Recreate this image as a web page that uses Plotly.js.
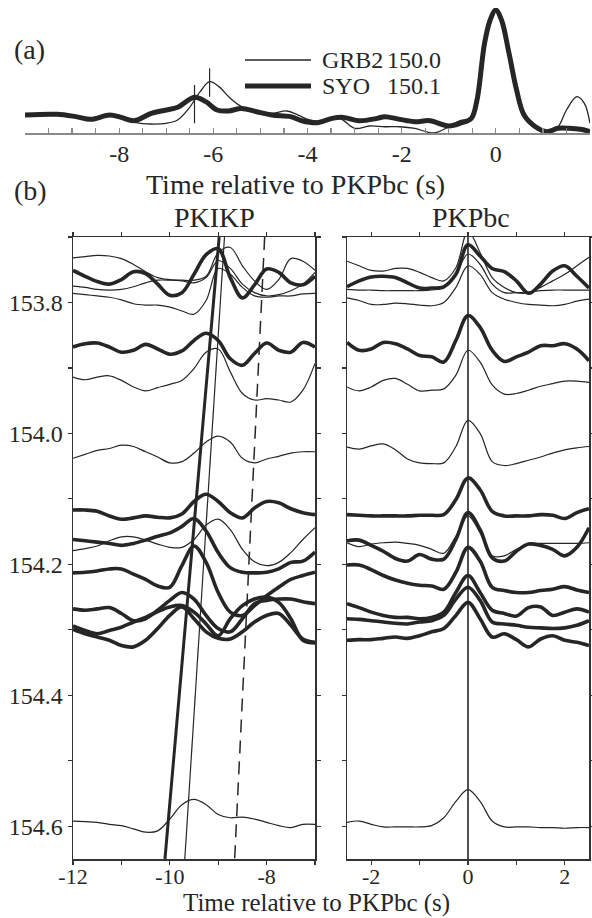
<!DOCTYPE html>
<html><head><meta charset="utf-8">
<script src="https://cdn.plot.ly/plotly-3.0.1.min.js"></script>
<style>html,body{margin:0;padding:0;background:#fff;}#chart{width:592px;height:918px;}</style>
</head><body><div id="chart"></div>
<script>
// ---------- panel (a): stacked records ----------
const tSYO = [-10,-9.32,-8.92,-8.6,-8.2,-7.96,-7.68,-7.32,-7.0,-6.76,-6.4,-6.16,-5.92,-5.68,-5.4,-5.08,-4.76,-4.36,-4.12,-3.8,-3.48,-3.24,-2.92,-2.52,-2.36,-2.04,-1.72,-1.4,-1.0,-0.72,-0.52,-0.4,-0.24,-0.12,0,0.12,0.28,0.44,0.6,0.84,1.08,1.32,1.56,1.8,2.0];
const ampSYO = [0.146,0.152,0.133,0.111,0.146,0.127,0.100,0.160,0.187,0.209,0.290,0.255,0.187,0.179,0.200,0.173,0.146,0.133,0.100,0.084,0.119,0.127,0.100,0.119,0.133,0.111,0.092,0.100,0.057,0.084,0.119,0.268,0.729,0.919,1.0,0.919,0.648,0.350,0.146,0.051,0.011,0.038,0.038,0.030,0.011];
const tGRB2 = [-10,-9.32,-8.92,-8.6,-8.2,-7.96,-7.64,-7.32,-7.0,-6.76,-6.52,-6.28,-6.08,-5.88,-5.64,-5.4,-5.08,-4.76,-4.44,-4.2,-3.96,-3.64,-3.32,-3.0,-2.68,-2.36,-2.04,-1.72,-1.32,-1.0,-0.76,-0.52,-0.4,-0.24,-0.12,0,0.12,0.28,0.44,0.6,0.84,1.08,1.32,1.5,1.72,1.88,2.0];
const ampGRB2 = [0.146,0.152,0.133,0.111,0.146,0.127,0.084,0.073,0.079,0.106,0.200,0.336,0.417,0.377,0.282,0.214,0.179,0.160,0.179,0.146,0.106,0.092,0.119,0.038,0.057,0.051,0.051,0.038,0.0,0.051,0.100,0.119,0.268,0.729,0.919,1.0,0.919,0.648,0.350,0.133,0.038,0.0,0.051,0.187,0.295,0.241,0.079];
const pickTimes = [-6.08, -6.40];
const pickLow = [0.295, 0.079];
const pickHigh = [0.526, 0.390];
const aTickVals = [-9.5,-9,-8.5,-8,-7.5,-7,-6.5,-6,-5.5,-5,-4.5,-4,-3.5,-3,-2.5,-2,-1.5,-1,-0.5,0,0.5,1,1.5];
const aTickText = ['','','','-8','','','','-6','','','','-4','','','','-2','','','','0','','',''];
const stationNames = ['GRB2', 'SYO'];
const stationDist = ['150.0', '150.1'];

// ---------- panel (b): record sections (y = distance, deg) ----------
const tLeft = [-12,-11.75,-11.5,-11.25,-11,-10.75,-10.5,-10.25,-10,-9.75,-9.5,-9.25,-9,-8.75,-8.5,-8.25,-8,-7.75,-7.5,-7.25,-7];
const tRight = [-2.5,-2.25,-2,-1.75,-1.5,-1.25,-1,-0.75,-0.5,-0.25,0,0.25,0.5,0.75,1,1.25,1.5,1.75,2,2.25,2.5];

const L1 = [153.732,153.730,153.728,153.729,153.733,153.742,153.753,153.762,153.765,153.766,153.766,153.760,153.724,153.716,153.744,153.767,153.780,153.765,153.733,153.737,153.751];
const L2 = [153.751,153.760,153.768,153.772,153.765,153.753,153.756,153.772,153.789,153.785,153.757,153.727,153.718,153.762,153.793,153.773,153.749,153.754,153.770,153.773,153.760];
const L3 = [153.775,153.777,153.780,153.781,153.780,153.776,153.770,153.766,153.766,153.767,153.770,153.762,153.736,153.748,153.772,153.785,153.790,153.788,153.782,153.772,153.754];
const L4 = [153.786,153.788,153.790,153.792,153.796,153.802,153.804,153.804,153.807,153.813,153.818,153.797,153.748,153.757,153.777,153.790,153.792,153.790,153.790,153.787,153.786];
const L5 = [153.868,153.863,153.862,153.868,153.876,153.873,153.864,153.871,153.879,153.874,153.858,153.847,153.858,153.886,153.896,153.878,153.862,153.873,153.876,153.861,153.868];
const L6 = [153.914,153.918,153.914,153.912,153.919,153.929,153.935,153.930,153.925,153.919,153.901,153.876,153.871,153.906,153.939,153.949,153.947,153.949,153.952,153.934,153.893];
const L7 = [154.038,154.032,154.026,154.023,154.018,154.020,154.028,154.036,154.045,154.043,154.030,154.013,154.004,154.013,154.038,154.045,154.039,154.035,154.030,154.028,154.028];
const L8 = [154.117,154.117,154.119,154.126,154.131,154.129,154.126,154.128,154.129,154.123,154.104,154.093,154.104,154.121,154.129,154.114,154.104,154.106,154.115,154.121,154.124];
const L9 = [154.162,154.164,154.166,154.168,154.171,154.168,154.163,154.157,154.152,154.142,154.130,154.149,154.182,154.205,154.212,154.213,154.212,154.207,154.197,154.195,154.181];
const L10 = [154.179,154.176,154.172,154.164,154.158,154.158,154.163,154.169,154.174,154.174,154.162,154.140,154.131,154.147,154.177,154.196,154.202,154.197,154.182,154.162,154.144];
const L11 = [154.213,154.212,154.210,154.207,154.207,154.215,154.223,154.233,154.235,154.202,154.172,154.197,154.243,154.273,154.278,154.263,154.248,154.235,154.223,154.217,154.212];
const L12 = [154.268,154.270,154.268,154.266,154.275,154.286,154.283,154.270,154.255,154.243,154.253,154.278,154.298,154.303,154.283,154.260,154.255,154.253,154.253,154.257,154.260];
const L13 = [154.294,154.301,154.306,154.301,154.296,154.288,154.281,154.272,154.265,154.263,154.273,154.291,154.309,154.283,154.263,154.253,154.250,154.258,154.283,154.316,154.320];
const L14 = [154.299,154.306,154.311,154.316,154.324,154.326,154.316,154.298,154.278,154.265,154.283,154.303,154.313,154.314,154.303,154.288,154.278,154.275,154.293,154.314,154.319];
const L15 = [154.592,154.593,154.594,154.597,154.599,154.604,154.609,154.607,154.589,154.567,154.559,154.567,154.582,154.587,154.586,154.589,154.594,154.599,154.602,154.597,154.597];

const R1 = [153.737,153.744,153.751,153.752,153.748,153.748,153.754,153.762,153.767,153.747,153.691,153.724,153.762,153.777,153.785,153.785,153.777,153.767,153.757,153.744,153.731];
const R2 = [153.776,153.767,153.761,153.760,153.762,153.770,153.778,153.778,153.776,153.757,153.712,153.729,153.748,153.753,153.767,153.786,153.772,153.752,153.744,153.760,153.778];
const R3 = [153.780,153.781,153.781,153.782,153.782,153.782,153.782,153.781,153.777,153.757,153.726,153.742,153.772,153.785,153.785,153.784,153.782,153.781,153.781,153.781,153.781];
const R4 = [153.793,153.797,153.803,153.803,153.801,153.802,153.804,153.805,153.800,153.777,153.744,153.757,153.785,153.795,153.800,153.803,153.804,153.805,153.803,153.798,153.795];
const R5 = [153.861,153.873,153.871,153.861,153.863,153.871,153.881,153.883,153.891,153.858,153.820,153.838,153.873,153.890,153.883,153.876,153.866,153.866,153.863,153.871,153.889];
const R6 = [153.929,153.935,153.929,153.919,153.916,153.925,153.935,153.934,153.932,153.911,153.873,153.891,153.926,153.940,153.939,153.934,153.928,153.924,153.920,153.920,153.922];
const R7 = [154.021,154.024,154.019,154.016,154.025,154.039,154.045,154.046,154.045,154.020,153.980,154.000,154.043,154.049,154.046,154.041,154.036,154.030,154.025,154.022,154.020];
const R8 = [154.124,154.125,154.126,154.126,154.126,154.126,154.125,154.125,154.124,154.101,154.068,154.086,154.119,154.126,154.126,154.126,154.124,154.125,154.130,154.121,154.115];
const R9 = [154.164,154.163,154.171,154.180,154.191,154.195,154.185,154.192,154.192,154.162,154.121,154.147,154.190,154.195,154.180,154.169,154.171,154.177,154.187,154.174,154.144];
const R10 = [154.167,154.173,154.169,154.167,154.166,154.168,154.171,154.177,154.183,154.157,154.126,154.152,154.187,154.187,154.177,154.169,154.168,154.168,154.168,154.168,154.167];
const R11 = [154.201,154.201,154.208,154.217,154.224,154.229,154.232,154.233,154.238,154.212,154.174,154.195,154.235,154.240,154.243,154.243,154.240,154.238,154.234,154.239,154.243];
const R12 = [154.260,154.266,154.273,154.278,154.281,154.281,154.283,154.281,154.273,154.243,154.217,154.243,154.270,154.275,154.279,154.266,154.265,154.278,154.273,154.268,154.273];
const R13 = [154.283,154.284,154.286,154.288,154.290,154.291,154.288,154.286,154.278,154.253,154.235,154.255,154.288,154.291,154.293,154.296,154.297,154.298,154.297,154.293,154.286];
const R14 = [154.316,154.315,154.315,154.313,154.311,154.313,154.309,154.303,154.298,154.278,154.258,154.283,154.311,154.306,154.315,154.326,154.314,154.309,154.316,154.319,154.324];
const R15 = [154.594,154.592,154.597,154.601,154.601,154.601,154.601,154.599,154.587,154.562,154.544,154.562,154.592,154.601,154.601,154.601,154.602,154.602,154.603,154.602,154.602];

const isSYOnet = [false,true,false,false,true,false,false,true,true,false,true,true,true,true,false];

// predicted PKIKP arrival lines (time at top / bottom distance)
const lineDist = [153.70, 154.65];
const pkikpModelA = [-8.98, -10.10];
const pkikpModelB = [-8.87, -9.69];
const pkikpModelC = [-8.04, -8.66];
const pkpbcLine = [0, 0];

const bTickVals = [153.7,153.8,153.9,154.0,154.1,154.2,154.3,154.4,154.5,154.6];
const bTickText = ['','153.8','','154.0','','154.2','','154.4','','154.6'];
const leftXVals = [-12,-11,-10,-9,-8,-7];
const leftXText = ['-12','','-10','','-8',''];
const rightXVals = [-2,-1,0,1,2];
const rightXText = ['-2','','0','','2'];

// ---------- build ----------
const W = 592, H = 918;
const px = v => v / W;
const py = v => 1 - v / H;
const serif = 'Liberation Serif, Times New Roman, Times, serif';
const ink = '#262626';

const traces = [];
traces.push({x:tGRB2, y:ampGRB2, xaxis:'x', yaxis:'y', mode:'lines', name:stationNames[0], showlegend:false,
  line:{color:ink, width:1.3, shape:'spline'}});
traces.push({x:tSYO, y:ampSYO, xaxis:'x', yaxis:'y', mode:'lines', name:stationNames[1], showlegend:false,
  line:{color:ink, width:5, shape:'spline'}});
pickTimes.forEach((t,i) => traces.push({x:[t,t], y:[pickLow[i],pickHigh[i]], xaxis:'x', yaxis:'y',
  mode:'lines', showlegend:false, hoverinfo:'skip', line:{color:ink, width:1.2}}));

const leftSet = [L1,L2,L3,L4,L5,L6,L7,L8,L9,L10,L11,L12,L13,L14,L15];
const rightSet = [R1,R2,R3,R4,R5,R6,R7,R8,R9,R10,R11,R12,R13,R14,R15];
leftSet.forEach((d,i) => traces.push({x:tLeft, y:d, xaxis:'x2', yaxis:'y2', mode:'lines', showlegend:false,
  line:{color:ink, width:isSYOnet[i]?3.6:1.2, shape:'spline'}}));
rightSet.forEach((d,i) => traces.push({x:tRight, y:d, xaxis:'x3', yaxis:'y3', mode:'lines', showlegend:false,
  line:{color:ink, width:isSYOnet[i]?3.6:1.2, shape:'spline'}}));

traces.push({x:pkikpModelA, y:lineDist, xaxis:'x2', yaxis:'y2', mode:'lines', showlegend:false, line:{color:ink, width:3}});
traces.push({x:pkikpModelB, y:lineDist, xaxis:'x2', yaxis:'y2', mode:'lines', showlegend:false, line:{color:ink, width:1.2}});
traces.push({x:pkikpModelC, y:lineDist, xaxis:'x2', yaxis:'y2', mode:'lines', showlegend:false, line:{color:ink, width:1.5, dash:'13px,8px'}});
traces.push({x:pkpbcLine, y:lineDist, xaxis:'x3', yaxis:'y3', mode:'lines', showlegend:false, line:{color:ink, width:1.6}});

const tickFont = {family:serif, size:24, color:ink};
const bottomTickFont = {family:serif, size:22, color:ink};
const frameAxis = {showline:true, mirror:'ticks', linecolor:'#333', linewidth:1.5, ticks:'outside',
  ticklen:4, tickwidth:1.2, tickcolor:'#333', showgrid:false, zeroline:false, tickfont:tickFont};

const ann = (text, x, y, size, xa, ya) => ({text, x:px(x), y:py(y), xref:'paper', yref:'paper', showarrow:false,
  xanchor:xa||'center', yanchor:ya||'middle', borderpad:0, font:{family:serif, size, color:ink}});

// legend key (drawn as a small key box in the upper panel)
const keyShapes = [
  {type:'line', xref:'paper', yref:'paper', x0:px(245), x1:px(311), y0:py(60), y1:py(60), line:{color:ink, width:1.3}},
  {type:'line', xref:'paper', yref:'paper', x0:px(245), x1:px(311), y0:py(86), y1:py(86), line:{color:ink, width:5}}
];

const bTop = 237, bBottom = 859;

const layout = {
  width:W, height:H, margin:{l:0,r:0,t:0,b:0}, paper_bgcolor:'#fff', plot_bgcolor:'rgba(0,0,0,0)',
  showlegend:false,
  xaxis:{domain:[px(25),px(590)], range:[-10,2], anchor:'y', showline:true, linecolor:'#8a8a8a', linewidth:2,
    ticks:'inside', ticklen:5, tickwidth:1.2, tickcolor:'#8a8a8a', tickvals:aTickVals, ticktext:aTickText,
    tickfont:tickFont, showgrid:false, zeroline:false, ticklabelstandoff:-2},
  yaxis:{domain:[py(133),py(8)], range:[0,1.0163], visible:false},
  xaxis2:Object.assign({}, frameAxis, {domain:[px(73),px(315)], range:[-12,-7], anchor:'y2',
    tickvals:leftXVals, ticktext:leftXText, tickfont:bottomTickFont, ticklabelstandoff:-7}),
  yaxis2:Object.assign({}, frameAxis, {domain:[py(bBottom),py(bTop)], range:[154.65,153.70], anchor:'x2',
    tickvals:bTickVals, ticktext:bTickText}),
  xaxis3:Object.assign({}, frameAxis, {domain:[px(347),px(589)], range:[-2.5,2.5], anchor:'y3',
    tickvals:rightXVals, ticktext:rightXText, tickfont:bottomTickFont, ticklabelstandoff:-7}),
  yaxis3:Object.assign({}, frameAxis, {domain:[py(bBottom),py(bTop)], range:[154.65,153.70], anchor:'x3',
    tickvals:bTickVals, showticklabels:false}),
  shapes:keyShapes,
  annotations:[
    ann('(a)', 13, 50, 28, 'left'),
    ann('(b)', 13, 190, 28, 'left'),
    ann('Time relative to PKPbc (s)', 295, 184, 28),
    ann('PKIKP', 214, 217, 28),
    ann('PKPbc', 471, 217, 28),
    ann('Time relative to PKPbc (s)', 316, 918, 25, 'center', 'bottom'),
    ann(stationNames[0], 321, 60, 24, 'left'),
    ann(stationDist[0], 386, 60, 24, 'left'),
    ann(stationNames[1], 321, 86, 24, 'left'),
    ann(stationDist[1], 386, 86, 24, 'left')
  ]
};

Plotly.newPlot('chart', traces, layout, {displayModeBar:false, staticPlot:true});
</script>
</body></html>
